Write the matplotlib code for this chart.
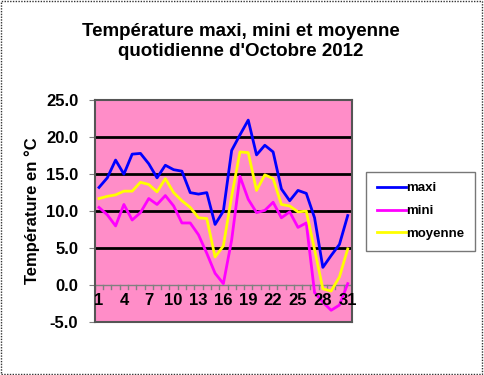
import numpy as np
import matplotlib.pyplot as plt
from matplotlib.patches import Rectangle

# Daily temperatures, October 2012
days = list(range(1, 32))
maxi = [13.2, 14.5, 16.9, 15.0, 17.7, 17.8, 16.4, 14.5, 16.2, 15.6, 15.4, 12.5, 12.3, 12.5, 8.2, 10.0,
        18.2, 20.3, 22.3, 17.6, 18.9, 18.0, 13.0, 11.4, 12.8, 12.4, 9.1, 2.4, 4.0, 5.5, 9.4]
mini = [10.5, 9.5, 8.0, 10.9, 8.8, 9.8, 11.7, 10.9, 12.1, 10.7, 8.4, 8.4, 6.8, 4.3, 1.6, 0.2,
        6.1, 14.7, 11.6, 9.8, 10.1, 11.2, 9.1, 9.9, 7.8, 8.4, -1.0, -2.3, -3.4, -2.7, 0.2]
moyenne = [11.7, 12.0, 12.2, 12.7, 12.7, 13.9, 13.6, 12.6, 14.4, 12.5, 11.4, 10.5, 9.1, 9.0, 3.8, 5.3,
           12.0, 18.0, 17.9, 12.8, 14.9, 14.4, 10.9, 10.7, 9.9, 10.0, 4.8, -0.5, -0.8, 1.1, 4.9]

fig = plt.figure(figsize=(4.84, 3.75), dpi=100)
plt.rcParams['font.family'] = ['Liberation Sans', 'DejaVu Sans']

# dotted border around the whole chart
fig.patches.append(Rectangle((0.002, 0.003), 0.994, 0.994, transform=fig.transFigure,
                             fill=False, ec='#333333', lw=1, ls=(0, (1, 1))))

ax = fig.add_axes([0.196, 0.141, 0.531, 0.592])
ax.set_facecolor('#FF8DC8')
ax.set_xlim(0.5, 31.5)
ax.set_ylim(-5, 25)

for y in [5, 10, 15, 20]:
    ax.axhline(y, color='black', lw=2, zorder=1)
# category axis crossing at 0
ax.axhline(0, color='#808080', lw=1, zorder=1)
for d in np.arange(0.5, 32, 1):
    ax.plot([d, d], [0, -0.5], color='#808080', lw=1, zorder=1)

ax.plot(days, maxi, color='#0000FF', lw=2, label='maxi', zorder=3)
ax.plot(days, mini, color='#FF00FF', lw=2, label='mini', zorder=3)
ax.plot(days, moyenne, color='#FFFF00', lw=2, label='moyenne', zorder=3)

ax.set_yticks([-5, 0, 5, 10, 15, 20, 25])
ax.set_yticklabels([f'{v:.1f}' for v in [-5, 0, 5, 10, 15, 20, 25]],
                   fontsize=12, fontweight='bold')
ax.tick_params(axis='y', direction='out', length=4, color='#808080', pad=8)
ax.set_xticks([])
for d in range(1, 32, 3):
    ax.text(d, -1.0, str(d), ha='center', va='top', fontsize=12, fontweight='bold')

for s in ax.spines.values():
    s.set_color('#555555')
    s.set_linewidth(1.5)

ax.set_ylabel('Température en °C', fontsize=12, fontweight='bold', labelpad=4)

fig.text(0.497, 0.89, "Température maxi, mini et moyenne\nquotidienne d'Octobre 2012",
         ha='center', va='center', fontsize=13.5, fontweight='bold', linespacing=1.2)

leg = ax.legend(loc='center left', bbox_to_anchor=(1.03, 0.5), frameon=True,
                fancybox=False, edgecolor='#555555', handlelength=2.2,
                handletextpad=0.05, labelspacing=0.8, borderpad=0.8,
                prop={'weight': 'bold', 'size': 9.5})
leg.get_frame().set_linewidth(1)

fig.savefig('out.png', dpi=100)
